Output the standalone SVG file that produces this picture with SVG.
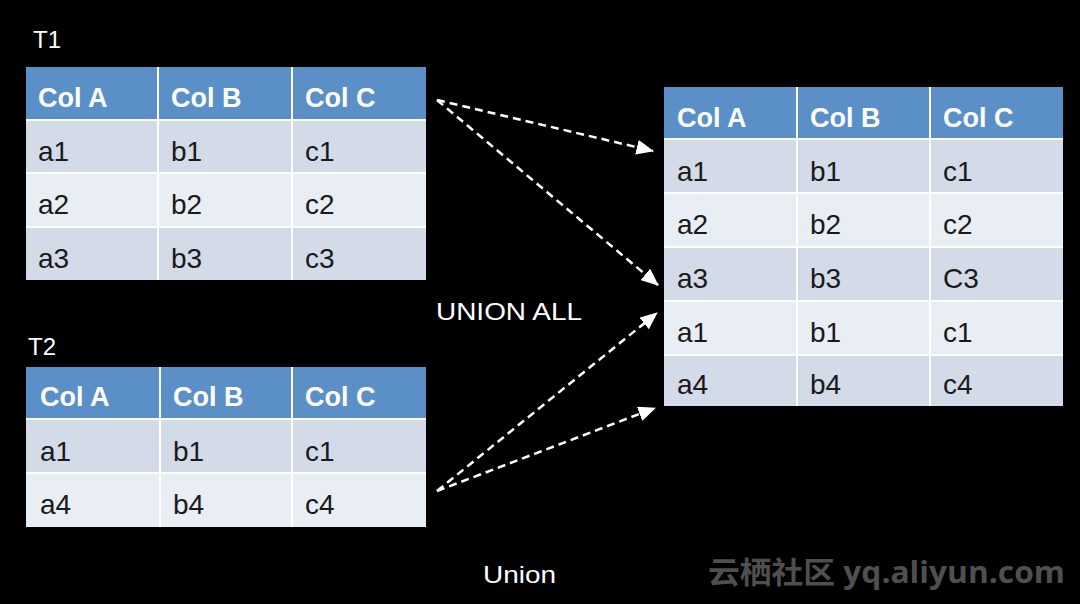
<svg xmlns="http://www.w3.org/2000/svg" width="1080" height="604" viewBox="0 0 1080 604">
<style>
.hd{fill:#5b8fc8}
.r1{fill:#d3dbe8}
.r2{fill:#e9edf4}
.sep{stroke:#ffffff;stroke-width:2}
.ht{font-family:"Liberation Sans",Arial,sans-serif;font-weight:bold;font-size:27px;fill:#ffffff}
.dt{font-family:"Liberation Sans",Arial,sans-serif;font-size:28px;fill:#1a1a1a}
.lb{font-family:"Liberation Sans",Arial,sans-serif;font-size:24px;fill:#ffffff}
.cn{fill:none;stroke:#ffffff;stroke-width:2.5;stroke-dasharray:8 5}
</style>
<defs>
<marker id="ah" markerWidth="7" markerHeight="6" refX="6.6" refY="3" orient="auto" markerUnits="strokeWidth">
<path d="M0,0 L7,3 L0,6 Z" fill="#ffffff"/>
</marker>
</defs>
<rect width="1080" height="604" fill="#000000"/>

<g id="t1">
<text class="lb" x="33" y="48">T1</text>
<rect class="hd" x="26" y="67" width="400" height="52"/>
<rect class="r1" x="26" y="120" width="400" height="53"/>
<rect class="r2" x="26" y="173" width="400" height="54"/>
<rect class="r1" x="26" y="227" width="400" height="53"/>
<line class="sep" x1="26" y1="120" x2="426" y2="120" stroke-width="4"/>
<line class="sep" x1="26" y1="173" x2="426" y2="173"/>
<line class="sep" x1="26" y1="227" x2="426" y2="227"/>
<line class="sep" x1="158" y1="67" x2="158" y2="280"/>
<line class="sep" x1="292" y1="67" x2="292" y2="280"/>
<text class="ht" x="38" y="107">Col A</text>
<text class="ht" x="171" y="107">Col B</text>
<text class="ht" x="305" y="107">Col C</text>
<text class="dt" x="38" y="161">a1</text>
<text class="dt" x="171" y="161">b1</text>
<text class="dt" x="305" y="161">c1</text>
<text class="dt" x="38" y="214">a2</text>
<text class="dt" x="171" y="214">b2</text>
<text class="dt" x="305" y="214">c2</text>
<text class="dt" x="38" y="268">a3</text>
<text class="dt" x="171" y="268">b3</text>
<text class="dt" x="305" y="268">c3</text>
</g>

<g id="t2">
<text class="lb" x="28" y="355">T2</text>
<rect class="hd" x="26" y="367" width="400" height="51"/>
<rect class="r1" x="26" y="419" width="400" height="54"/>
<rect class="r2" x="26" y="473" width="400" height="54"/>
<line class="sep" x1="26" y1="419" x2="426" y2="419" stroke-width="4"/>
<line class="sep" x1="26" y1="473" x2="426" y2="473"/>
<line class="sep" x1="160" y1="367" x2="160" y2="527"/>
<line class="sep" x1="292" y1="367" x2="292" y2="527"/>
<text class="ht" x="40" y="406">Col A</text>
<text class="ht" x="173" y="406">Col B</text>
<text class="ht" x="305" y="406">Col C</text>
<text class="dt" x="40" y="461">a1</text>
<text class="dt" x="173" y="461">b1</text>
<text class="dt" x="305" y="461">c1</text>
<text class="dt" x="40" y="514">a4</text>
<text class="dt" x="173" y="514">b4</text>
<text class="dt" x="305" y="514">c4</text>
</g>

<g id="result">
<rect class="hd" x="664" y="87" width="399" height="51"/>
<rect class="r1" x="664" y="140" width="399" height="53"/>
<rect class="r2" x="664" y="193" width="399" height="54"/>
<rect class="r1" x="664" y="247" width="399" height="54"/>
<rect class="r2" x="664" y="301" width="399" height="54"/>
<rect class="r1" x="664" y="355" width="399" height="51"/>
<line class="sep" x1="664" y1="139" x2="1063" y2="139" stroke-width="4"/>
<line class="sep" x1="664" y1="193" x2="1063" y2="193"/>
<line class="sep" x1="664" y1="247" x2="1063" y2="247"/>
<line class="sep" x1="664" y1="301" x2="1063" y2="301"/>
<line class="sep" x1="664" y1="355" x2="1063" y2="355"/>
<line class="sep" x1="797" y1="87" x2="797" y2="406"/>
<line class="sep" x1="930" y1="87" x2="930" y2="406"/>
<text class="ht" x="677" y="127">Col A</text>
<text class="ht" x="810" y="127">Col B</text>
<text class="ht" x="943" y="127">Col C</text>
<text class="dt" x="677" y="181">a1</text>
<text class="dt" x="810" y="181">b1</text>
<text class="dt" x="943" y="181">c1</text>
<text class="dt" x="677" y="234">a2</text>
<text class="dt" x="810" y="234">b2</text>
<text class="dt" x="943" y="234">c2</text>
<text class="dt" x="677" y="288">a3</text>
<text class="dt" x="810" y="288">b3</text>
<text class="dt" x="943" y="288">C3</text>
<text class="dt" x="677" y="342">a1</text>
<text class="dt" x="810" y="342">b1</text>
<text class="dt" x="943" y="342">c1</text>
<text class="dt" x="677" y="394">a4</text>
<text class="dt" x="810" y="394">b4</text>
<text class="dt" x="943" y="394">c4</text>
</g>

<g id="connectors">
<line class="cn" x1="437" y1="100" x2="653" y2="151" marker-end="url(#ah)"/>
<line class="cn" x1="437" y1="100" x2="658" y2="285" marker-end="url(#ah)"/>
<line class="cn" x1="437" y1="491" x2="657" y2="313" marker-end="url(#ah)"/>
<line class="cn" x1="437" y1="491" x2="655" y2="408" marker-end="url(#ah)"/>
</g>

<g id="labels">
<text class="lb" x="436" y="320" font-size="26" textLength="146" lengthAdjust="spacingAndGlyphs">UNION ALL</text>
<text class="lb" x="483" y="583" font-size="26" textLength="73" lengthAdjust="spacingAndGlyphs">Union</text>
<text x="708" y="583" font-family="'Open Sans','Noto Sans CJK SC',sans-serif" font-size="30" font-weight="bold" fill="#4f4f4f" textLength="357" lengthAdjust="spacingAndGlyphs">云栖社区 yq.aliyun.com</text>
</g>
</svg>
